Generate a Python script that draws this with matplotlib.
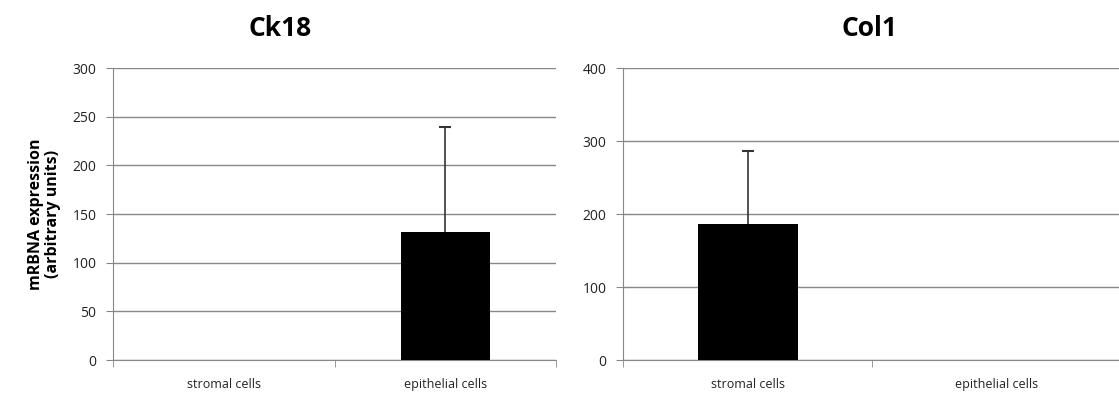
import matplotlib.pyplot as plt
from matplotlib.ticker import FixedLocator

categories = ['stromal cells', 'epithelial cells']
ck18_values = [0, 132]
ck18_err = [0, 108]
col1_values = [187, 0]
col1_err = [99, 0]

plt.rcParams['font.family'] = ['Open Sans', 'DejaVu Sans']

fig = plt.figure(figsize=(11.19, 4.01), dpi=100)
ax1 = fig.add_axes([0.101, 0.102, 0.396, 0.728])
ax2 = fig.add_axes([0.557, 0.102, 0.445, 0.728])


def style(ax, values, errs, ymax, step):
    x = list(range(len(categories)))
    ax.bar(x, values, width=0.4, color='black', zorder=3)
    # upper error bars only
    ex = [i for i in x if errs[i] > 0]
    ev = [values[i] for i in ex]
    ee = [errs[i] for i in ex]
    ax.errorbar(ex, ev, yerr=[[0] * len(ee), ee], fmt='none',
                ecolor='#333333', elinewidth=1.2, capsize=0, zorder=4)
    ax.plot(ex, [v + e for v, e in zip(ev, ee)], linestyle='none', marker='_',
            markersize=8, markeredgewidth=1.5, color='#333333', zorder=4)
    ax.set_xlim(-0.5, len(categories) - 0.5)
    ax.set_ylim(0, ymax)
    ax.set_yticks(range(0, ymax + 1, step))
    ax.set_xticks(x)
    ax.set_xticklabels(categories, fontsize=9, color='#222222')
    ax.xaxis.set_minor_locator(FixedLocator([-0.5, 0.5, 1.5]))
    ax.tick_params(axis='x', which='major', length=0, pad=13)
    ax.tick_params(axis='x', which='minor', length=5, color='#888888')
    ax.tick_params(axis='y', length=5, color='#888888', labelsize=10,
                   labelcolor='#222222', pad=7)
    ax.grid(axis='y', color='#888888', linewidth=1, zorder=0)
    for s in ['top', 'right']:
        ax.spines[s].set_visible(False)
    ax.spines['left'].set_color('#888888')
    ax.spines['bottom'].set_color('#888888')


style(ax1, ck18_values, ck18_err, 300, 50)
style(ax2, col1_values, col1_err, 400, 100)

ax1.set_ylabel('mRBNA expression\n(arbitrary units)', fontsize=11.5,
               fontweight='bold', labelpad=8, linespacing=1.1)
fig.text(0.25, 0.93, 'Ck18', ha='center', va='center', fontsize=19, fontweight='bold')
fig.text(0.777, 0.93, 'Col1', ha='center', va='center', fontsize=19, fontweight='bold')

fig.savefig('out.png', dpi=100)
